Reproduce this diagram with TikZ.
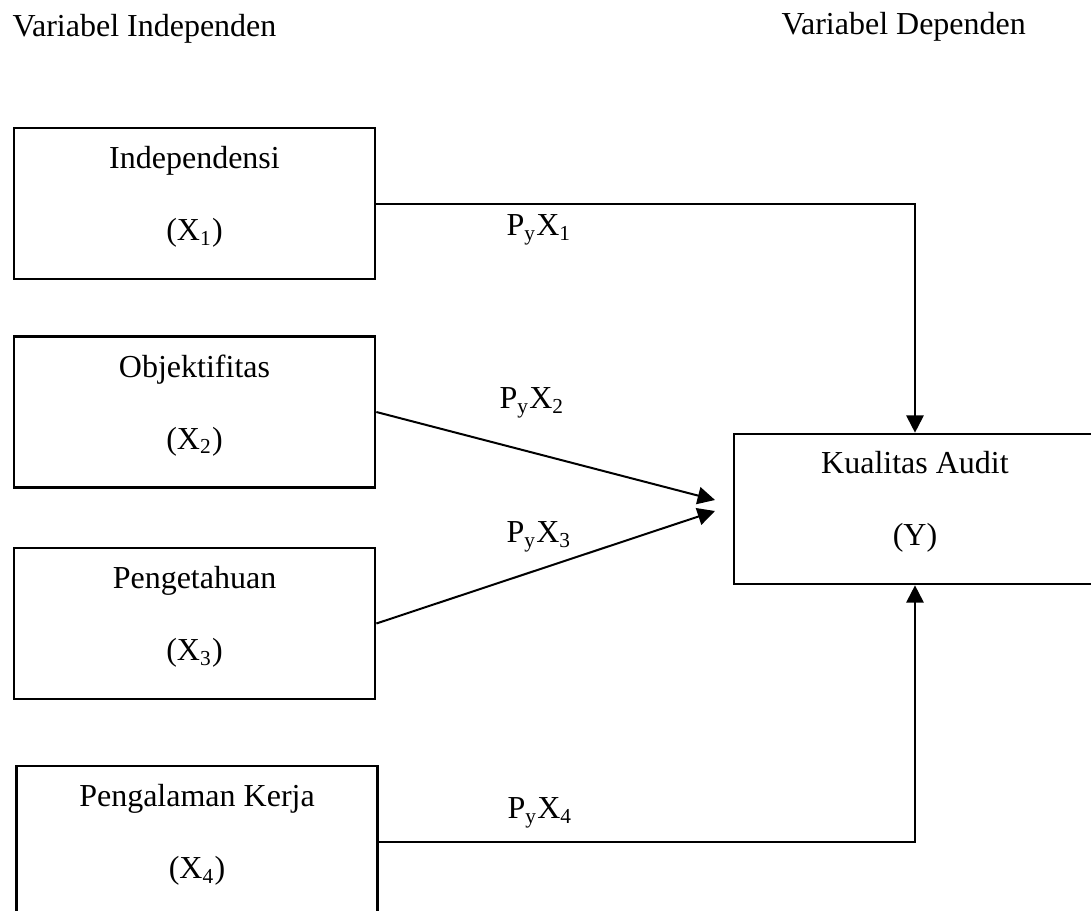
\documentclass[tikz,border=0pt]{standalone}
\usepackage{fontspec}
\setmainfont{Liberation Serif}
\usepackage{tikz}
\usetikzlibrary{arrows.meta}
\tikzset{var box/.style={rectangle, draw, line width=1pt, align=center,
    minimum width=135.4pt, minimum height=56.6pt, inner sep=0pt}}
\tikzset{path edge/.style={draw, line width=0.75pt, -{Triangle[length=6.5pt,width=6.5pt]}}}
\tikzset{path label/.style={inner sep=0pt}}
\tikzset{header/.style={anchor=west, inner sep=0pt}}
\newcommand{\lowpart}{\rule[-7.6pt]{0pt}{7.6pt}}

\begin{document}
\begin{tikzpicture}
      [x=0.375pt, y=-0.375pt, font=\fontsize{12}{14.5}\selectfont]
      \useasboundingbox (0,0) rectangle (1091,911);

      \node [header]             (indep) at ( 12,  29) {Variabel Independen};
      \node [header]             (dep)   at (781,  27) {Variabel Dependen};

      \node [var box]            (x1)    at (194.5, 203.5) {Independensi\\[12.5pt](X\textsubscript{1})\lowpart};
      \node [var box]            (x2)    at (194.5, 412)   {Objektifitas\\[12.5pt](X\textsubscript{2})\lowpart};
      \node [var box]            (x3)    at (194.5, 623.5) {Pengetahuan\\[12.5pt](X\textsubscript{3})\lowpart};
      \node [var box]            (x4)    at (197,   841.5) {Pengalaman Kerja\\[12.5pt](X\textsubscript{4})\lowpart};
      \node [var box, minimum width=135.8pt, minimum height=56.25pt]
                                 (y)     at (915,   509)   {Kualitas Audit\\[12.5pt](Y)\lowpart};

      \coordinate                (in2)   at (715, 500);
      \coordinate                (in3)   at (715, 511);

      \draw [path edge]  (x1.east) -| (y.north);
      \draw [path edge]  (x2.east) to (in2);
      \draw [path edge]  (x3.east) to (in3);
      \draw [path edge]  (x4.east) -| (y.south);

      \node [path label]         (p1)    at (539, 230) {P\textsubscript{y}X\textsubscript{1}};
      \node [path label]         (p2)    at (532, 403) {P\textsubscript{y}X\textsubscript{2}};
      \node [path label]         (p3)    at (539, 537) {P\textsubscript{y}X\textsubscript{3}};
      \node [path label]         (p4)    at (540, 813) {P\textsubscript{y}X\textsubscript{4}};
\end{tikzpicture}
\end{document}
